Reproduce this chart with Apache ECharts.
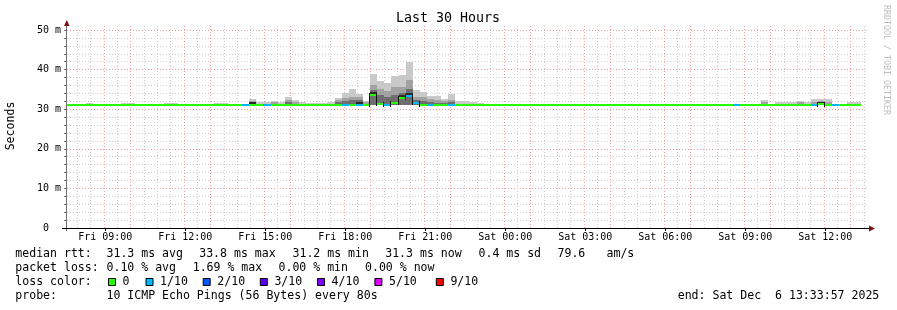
<!DOCTYPE html>
<html>
<head>
<meta charset="utf-8">
<script src="https://cdn.jsdelivr.net/npm/echarts@6.0.0/dist/echarts.min.js"></script>
<style>
html,body{margin:0;padding:0;background:#ffffff;}
#chart{width:897px;height:310px;}
</style>
</head>
<body>
<div id="chart"></div>
<script>
// ---------- time axis (hours since Fri 00:00) ----------
const firstStepHour = 7 + 28/60;          // first 16-minute step starts Fri 07:28
const stepHours = 16/60;
const xStart = 7 + 33/60 + 57/3600;       // Fri 07:33:57
const xEnd = xStart + 30;                 // Sat 13:33:57
const tickHours = [9,12,15,18,21,24,27,30,33,36];
const tickLabels = ['Fri 09:00','Fri 12:00','Fri 15:00','Fri 18:00','Fri 21:00','Sat 00:00','Sat 03:00','Sat 06:00','Sat 09:00','Sat 12:00'];

// ---------- per-step values (ms) ----------
const median = [
 31.3,31.3,31.3,31.3,31.3,31.3,31.3,31.3,31.3,31.3,
 31.3,31.3,31.3,31.3,31.3,31.3,31.3,31.3,31.3,31.3,
 31.3,31.3,31.3,31.3,31.3,31.3,31.4,31.3,31.3,31.3,
 31.3,31.3,31.3,31.3,31.3,31.3,31.3,31.3,31.3,31.3,
 31.4,31.3,31.3,33.8,31.6,31.2,31.7,33.2,33.7,31.7,
 31.2,31.3,31.3,31.3,31.3,31.3,31.3,31.3,31.3,31.3,
 31.3,31.3,31.3,31.3,31.3,31.3,31.3,31.3,31.3,31.3,
 31.3,31.3,31.3,31.3,31.3,31.3,31.3,31.3,31.3,31.3,
 31.3,31.3,31.3,31.3,31.3,31.3,31.3,31.3,31.3,31.3,
 31.3,31.3,31.3,31.3,31.3,31.3,31.3,31.3,31.3,31.3,
 31.3,31.3,31.3,31.3,31.3,31.3,31.6,31.3,31.3,31.3,
 31.3,31.3
];
const lossCount = [
 0,0,0,0,0,0,0,0,0,0,
 0,0,0,0,0,0,0,0,0,0,
 0,0,0,0,0,1,0,0,1,0,
 0,0,0,0,0,0,0,0,0,1,
 0,1,0,0,0,1,0,0,1,1,
 0,1,0,0,1,0,0,0,0,0,
 0,0,0,0,0,0,0,0,0,0,
 0,0,0,0,0,0,0,0,0,0,
 0,0,0,0,0,0,0,0,0,0,
 0,0,0,0,1,0,0,0,0,0,
 0,0,0,0,0,1,0,0,1,0,
 0,0
];
const smokeMax = [
 31.4,31.4,31.4,31.6,31.4,31.4,31.4,31.4,31.6,31.6,
 31.4,31.4,31.4,31.4,31.6,31.6,31.4,31.4,31.4,31.4,
 31.4,31.6,31.6,31.4,31.4,31.4,32.6,31.8,31.8,32.1,
 31.7,33.1,32.3,31.9,31.6,31.6,31.6,31.7,32.9,34.0,
 35.1,33.8,32.1,38.9,37.2,36.5,38.4,38.6,42.0,34.8,
 34.4,33.4,33.4,32.6,33.9,32.1,32.1,31.7,31.6,31.4,
 31.4,31.4,31.4,31.4,31.4,31.4,31.4,31.4,31.4,31.4,
 31.4,31.4,31.4,31.4,31.4,31.4,31.4,31.4,31.4,31.4,
 31.4,31.4,31.4,31.4,31.4,31.4,31.4,31.4,31.4,31.4,
 31.4,31.4,31.4,31.4,31.4,31.4,31.4,31.4,32.3,31.4,
 31.7,31.7,31.8,32.1,31.8,32.6,32.6,32.6,31.4,31.4,
 31.8,31.8
];
const smokeMid = [
 31.3,31.3,31.3,31.3,31.3,31.3,31.3,31.3,31.3,31.3,
 31.3,31.3,31.3,31.3,31.3,31.3,31.3,31.3,31.3,31.3,
 31.3,31.3,31.3,31.3,31.3,31.3,32.0,31.3,31.3,31.7,
 31.3,32.2,31.8,31.3,31.3,31.3,31.3,31.3,32.2,32.8,
 33.2,33.0,31.8,36.0,35.0,34.5,35.5,35.5,37.5,33.0,
 33.0,32.5,32.3,32.0,32.4,31.3,31.3,31.3,31.3,31.3,
 31.3,31.3,31.3,31.3,31.3,31.3,31.3,31.3,31.3,31.3,
 31.3,31.3,31.3,31.3,31.3,31.3,31.3,31.3,31.3,31.3,
 31.3,31.3,31.3,31.3,31.3,31.3,31.3,31.3,31.3,31.3,
 31.3,31.3,31.3,31.3,31.3,31.3,31.3,31.3,31.7,31.3,
 31.3,31.3,31.3,31.7,31.3,31.9,32.1,31.9,31.3,31.3,
 31.3,31.3
];
const smokeInner = [
 31.3,31.3,31.3,31.3,31.3,31.3,31.3,31.3,31.3,31.3,
 31.3,31.3,31.3,31.3,31.3,31.3,31.3,31.3,31.3,31.3,
 31.3,31.3,31.3,31.3,31.3,31.3,31.6,31.3,31.3,31.3,
 31.3,31.7,31.3,31.3,31.3,31.3,31.3,31.3,31.7,32.0,
 32.2,32.3,31.3,34.8,33.5,33.0,33.5,34.2,35.0,32.2,
 32.0,31.8,31.6,31.5,31.8,31.3,31.3,31.3,31.3,31.3,
 31.3,31.3,31.3,31.3,31.3,31.3,31.3,31.3,31.3,31.3,
 31.3,31.3,31.3,31.3,31.3,31.3,31.3,31.3,31.3,31.3,
 31.3,31.3,31.3,31.3,31.3,31.3,31.3,31.3,31.3,31.3,
 31.3,31.3,31.3,31.3,31.3,31.3,31.3,31.3,31.3,31.3,
 31.3,31.3,31.3,31.3,31.3,31.3,31.8,31.3,31.3,31.3,
 31.3,31.3
];
const smokeMin = [
 31.2,31.2,31.2,31.2,31.2,31.2,31.2,31.2,31.2,31.2,
 31.2,31.2,31.2,31.2,31.2,31.2,31.2,31.2,31.2,31.2,
 31.2,31.2,31.2,31.2,31.2,31.2,31.1,31.2,31.2,31.2,
 31.2,31.1,31.2,31.2,31.2,31.2,31.2,31.2,31.1,31.1,
 31.1,31.1,31.2,31.1,31.1,31.0,31.1,31.1,31.1,31.1,
 31.0,31.1,31.1,31.2,31.1,31.2,31.2,31.2,31.2,31.2,
 31.2,31.2,31.2,31.2,31.2,31.2,31.2,31.2,31.2,31.2,
 31.2,31.2,31.2,31.2,31.2,31.2,31.2,31.2,31.2,31.2,
 31.2,31.2,31.2,31.2,31.2,31.2,31.2,31.2,31.2,31.2,
 31.2,31.2,31.2,31.2,31.2,31.2,31.2,31.2,31.2,31.2,
 31.2,31.2,31.2,31.2,31.2,31.2,31.2,31.2,31.2,31.2,
 31.2,31.2
];
const smokeCore = [
 0,0,0,0,0,0,0,0,0,0,
 0,0,0,0,0,0,0,0,0,0,
 0,0,0,0,0,0,0.3,0,0,0,
 0,0,0,0,0,0,0,0,0,0,
 0,0.4,0,0.5,0,0,0,0.4,0.5,0,
 0,0,0,0,0,0,0,0,0,0,
 0,0,0,0,0,0,0,0,0,0,
 0,0,0,0,0,0,0,0,0,0,
 0,0,0,0,0,0,0,0,0,0,
 0,0,0,0,0,0,0,0,0,0,
 0,0,0,0,0,0,0.3,0,0,0,
 0,0
];

// ---------- legend texts ----------
const lossLegend = [['0','#26ff00'],['1/10','#00b8ff'],['2/10','#0059ff'],['3/10','#5e00ff'],['4/10','#7e00ff'],['5/10','#dd00ff'],['9/10','#ff0000']];
const lossColorByCount = {0:'#26ff00',1:'#00b8ff',2:'#0059ff',3:'#5e00ff',4:'#7e00ff',5:'#dd00ff',9:'#ff0000'};
const rttStats = ['31.3 ms avg','33.8 ms max','31.2 ms min','31.3 ms now','0.4 ms sd','79.6','am/s'];
const lossStats = ['0.10 % avg','1.69 % max','0.00 % min','0.00 % now'];
const probeText = '10 ICMP Echo Pings (56 Bytes) every 80s';
const endText = 'end: Sat Dec  6 13:33:57 2025';

// ---------- build series data ----------
const smokeData = [], medianData = [];
for (let i = 0; i < median.length; i++) {
  const t0 = firstStepHour + i*stepHours, t1 = t0 + stepHours;
  smokeData.push([t0, t1, smokeMin[i], smokeInner[i], smokeMid[i], smokeMax[i], smokeCore[i], median[i]]);
  medianData.push([t0, t1, median[i], lossCount[i], i > 0 ? median[i-1] : median[i]]);
}
const vGridData = [];
for (let h = Math.ceil(xStart*2)/2; h <= xEnd; h += 0.5) {
  const major = Number.isInteger(h) && (h % 3 !== 2);
  vGridData.push([h, major ? 1 : 0]);
}

function clipRect(r, cs) {
  return echarts.graphic.clipRectByRect(r, {x: cs.x, y: cs.y, width: cs.width, height: cs.height});
}

const MONO = 'DejaVu Sans Mono';
const chart = echarts.init(document.getElementById('chart'), null, {renderer: 'canvas'});

function txt(x, y, text, extra) {
  return Object.assign({type: 'text', x: x, y: y, z: 10, silent: true,
    style: {text: text, fontFamily: MONO, fontSize: 11.55, fill: '#000', align: 'left', verticalAlign: 'middle'}}, extra || {});
}

const graphics = [];
graphics.push({type: 'text', x: 448, y: 19, z: 10, style: {text: 'Last 30 Hours', fontFamily: MONO, fontSize: 13.3, fill: '#000', align: 'center', verticalAlign: 'middle'}});
graphics.push({type: 'text', x: 11, y: 126, rotation: Math.PI/2, z: 10, style: {text: 'Seconds', fontFamily: MONO, fontSize: 11.55, fill: '#000', align: 'center', verticalAlign: 'middle'}});
graphics.push({type: 'text', x: 886, y: 60, rotation: -Math.PI/2, z: 10, style: {text: 'RRDTOOL / TOBI OETIKER', fontFamily: MONO, fontSize: 8.3, fill: '#bdbdbd', align: 'center', verticalAlign: 'middle'}});
graphics.push({type: 'line', z: 10, shape: {x1: 66.5, y1: 22, x2: 66.5, y2: 231}, style: {stroke: '#6f6f6f', lineWidth: 1}});
graphics.push({type: 'line', z: 10, shape: {x1: 62, y1: 228.5, x2: 870, y2: 228.5}, style: {stroke: '#000', lineWidth: 1}});
graphics.push({type: 'polygon', z: 11, shape: {points: [[64, 26], [69.6, 26], [66.8, 20]]}, style: {fill: '#7a1515'}});
graphics.push({type: 'polygon', z: 11, shape: {points: [[869, 225.5], [869, 231.5], [875, 228.5]]}, style: {fill: '#7a1515'}});
const rttX = [106.5, 199.2, 292.5, 385.2, 478.5, 557.5, 606.5];
graphics.push(txt(15.3, 254.3, 'median rtt:'));
rttStats.forEach((s, k) => graphics.push(txt(rttX[k], 254.3, s)));
const lossX = [106.5, 192.7, 278.5, 365];
graphics.push(txt(15.3, 268.3, 'packet loss:'));
lossStats.forEach((s, k) => graphics.push(txt(lossX[k], 268.3, s)));
graphics.push(txt(15.3, 282, 'loss color:'));
const boxX = [108, 145.5, 202.7, 259.8, 317, 374.4, 435.8];
lossLegend.forEach((it, k) => {
  graphics.push({type: 'rect', z: 10, shape: {x: boxX[k] + 0.5, y: 278.5, width: 7, height: 7}, style: {fill: it[1], stroke: '#000', lineWidth: 1}});
  graphics.push(txt(boxX[k] + 14.6, 282, it[0]));
});
graphics.push(txt(15.3, 296.3, 'probe:'));
graphics.push(txt(106.5, 296.3, probeText));
graphics.push(txt(677.7, 296.3, endText));

const option = {
  animation: false,
  backgroundColor: '#ffffff',
  grid: {left: 67, top: 30, width: 800, height: 198, containLabel: false},
  xAxis: {
    type: 'value', min: xStart, max: xEnd,
    axisLine: {show: false},
    splitLine: {show: false},
    axisTick: {show: true, customValues: tickHours, length: 3, lineStyle: {color: '#000'}},
    axisLabel: {customValues: tickHours, margin: 4, fontFamily: MONO, fontSize: 10, color: '#000',
      formatter: v => tickLabels[tickHours.indexOf(Math.round(v))] || ''}
  },
  yAxis: {
    type: 'value', min: 0, max: 50, interval: 10,
    axisLine: {show: false},
    axisTick: {show: true, length: 3, lineStyle: {color: '#6f6f6f'}},
    minorTick: {show: true, splitNumber: 5, length: 3, lineStyle: {color: '#6f6f6f'}},
    splitLine: {show: true, lineStyle: {color: '#f2a0a0', type: [1, 2], width: 1}},
    minorSplitLine: {show: true, lineStyle: {color: '#cdcdcd', type: [1, 2], width: 1}},
    axisLabel: {margin: 6, fontFamily: MONO, fontSize: 10, color: '#000',
      formatter: v => v === 0 ? '0  ' : v + ' m'}
  },
  series: [
    {
      type: 'custom', silent: true, z: 1,
      data: vGridData,
      renderItem: function (params, api) {
        const cs = params.coordSys;
        const x = Math.floor(api.coord([api.value(0), 0])[0]) - 0.5;
        const major = api.value(1) === 1;
        return {type: 'line', shape: {x1: x, y1: cs.y - 4, x2: x, y2: cs.y + cs.height},
          style: {stroke: major ? '#f2a0a0' : '#cdcdcd', lineWidth: 1, lineDash: [1, 2]}};
      }
    },
    {
      type: 'custom', silent: true, z: 2,
      data: smokeData,
      renderItem: function (params, api) {
        const cs = params.coordSys;
        const t0 = api.value(0), t1 = api.value(1);
        const mn = api.value(2), vin = api.value(3), vmid = api.value(4), vmax = api.value(5);
        const core = api.value(6), med = api.value(7);
        const bands = [[mn, vmax, '#c9c9c9'], [mn, vmid, '#a2a2a2'], [mn, vin, '#6e6e6e']];
        if (core > 0) bands.push([med - core, med + core, '#2b2b2b']);
        const children = [];
        bands.forEach(b => {
          const a = api.coord([t0, b[1]]), c = api.coord([t1, b[0]]);
          const x0 = Math.round(a[0]), x1 = Math.round(c[0]);
          const y0 = Math.round(a[1]), y1 = Math.round(c[1]);
          if (y1 <= y0) return;
          const r = clipRect({x: x0, y: y0, width: x1 - x0, height: y1 - y0}, cs);
          if (r) children.push({type: 'rect', shape: r, style: {fill: b[2]}});
        });
        return {type: 'group', children: children};
      }
    },
    {
      type: 'custom', silent: true, z: 3,
      data: medianData,
      renderItem: function (params, api) {
        const cs = params.coordSys;
        const t0 = api.value(0), t1 = api.value(1), med = api.value(2), loss = api.value(3), prev = api.value(4);
        const a = api.coord([t0, med]), c = api.coord([t1, med]), p = api.coord([t0, prev]);
        const x0 = Math.round(a[0]), x1 = Math.round(c[0]);
        const y = Math.round(a[1]), yp = Math.round(p[1]);
        const children = [];
        if (Math.abs(y - yp) >= 1) {
          const top = Math.min(y, yp) - 1, bot = Math.max(y, yp) + 3;
          const rv = clipRect({x: x0 - 1, y: top, width: 1, height: bot - top}, cs);
          if (rv) children.push({type: 'rect', shape: rv, style: {fill: '#111'}});
        }
        const r = clipRect({x: x0, y: y, width: x1 - x0, height: 2}, cs);
        if (r) children.push({type: 'rect', shape: r, style: {fill: lossColorByCount[loss] || '#26ff00'}});
        return {type: 'group', children: children};
      }
    }
  ],
  graphic: {elements: graphics}
};
chart.setOption(option);
</script>
</body>
</html>
